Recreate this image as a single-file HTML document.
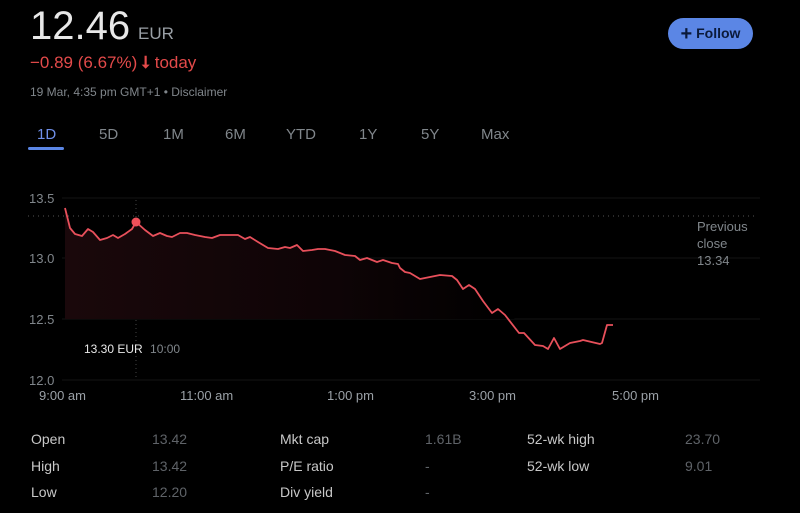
<!DOCTYPE html>
<html><head><meta charset="utf-8"><style>
body{margin:0;width:800px;height:513px;background:#000;overflow:hidden;font-family:"Liberation Sans",sans-serif;position:relative}
.a{position:absolute;white-space:nowrap}
</style></head><body>
<div class="a" style="left:30px;top:4px;font-size:40px;color:#e8e8e8">12.46</div>
<div class="a" style="left:138px;top:24px;font-size:17px;color:#9aa0a6">EUR</div>
<div class="a" style="left:30px;top:53px;font-size:17px;color:#e34a4a">−0.89 (6.67%) <span style="font-weight:bold;font-size:17px">&#11107;</span> today</div>
<div class="a" style="left:30px;top:85px;font-size:12px;color:#80868b">19 Mar, 4:35 pm GMT+1 • Disclaimer</div>
<div class="a" style="left:668px;top:18px;width:85px;height:31px;border-radius:16px;background:#5b86e5;color:#0b1a3a;font-size:14px;font-weight:bold;line-height:31px;text-align:center"><span style="font-size:20px;vertical-align:-2px">+</span> Follow</div>
<div class="a" style="left:37px;top:126px;font-size:15px;color:#6f8fe8">1D</div>
<div class="a" style="left:28px;top:147px;width:36px;height:3px;background:#5b86e5;border-radius:2px"></div>
<div class="a" style="left:99px;top:126px;font-size:15px;color:#80868b">5D</div>
<div class="a" style="left:163px;top:126px;font-size:15px;color:#80868b">1M</div>
<div class="a" style="left:225px;top:126px;font-size:15px;color:#80868b">6M</div>
<div class="a" style="left:286px;top:126px;font-size:15px;color:#80868b">YTD</div>
<div class="a" style="left:359px;top:126px;font-size:15px;color:#80868b">1Y</div>
<div class="a" style="left:421px;top:126px;font-size:15px;color:#80868b">5Y</div>
<div class="a" style="left:481px;top:126px;font-size:15px;color:#80868b">Max</div>
<svg class="a" style="left:0;top:0" width="800" height="513">
<defs><linearGradient id="g" x1="0" y1="0" x2="1" y2="0"><stop offset="0" stop-color="#1a080b"/><stop offset="0.6" stop-color="#0e0406"/><stop offset="1" stop-color="#000"/></linearGradient></defs>
<g stroke="#141414" stroke-width="1">
<line x1="62" y1="198" x2="760" y2="198"/><line x1="62" y1="258" x2="760" y2="258"/><line x1="62" y1="319" x2="760" y2="319"/><line x1="62" y1="380" x2="760" y2="380"/>
</g>
<line x1="28" y1="216" x2="755" y2="216" stroke="#555" stroke-dasharray="1,4"/>
<line x1="136" y1="200" x2="136" y2="380" stroke="#444" stroke-dasharray="1,3"/>
<polygon fill="url(#g)" points="65,208 70,228 75,234 82,236 88,229 93,232 100,240 107,238 113,235 118,238 125,234 132,229 136,222 145,230 153,236 160,233 167,236 172,237 180,233 187,233 195,235 205,237 212,238 220,235 227,235 238,235 245,239 250,237 258,242 268,248 278,249 285,247 290,248 297,245 303,251 312,250 318,249 325,249 335,251 345,255 355,256 360,260 367,258 377,262 383,260 392,263 398,264 400,268 405,272 410,273 420,279 425,278 440,275 452,276 457,280 463,289 469,285 475,289 483,301 492,313 498,309 505,315 515,319 65,319"/>
<polyline fill="none" stroke="#e8505b" stroke-width="1.8" stroke-linejoin="round" points="65,208 70,228 75,234 82,236 88,229 93,232 100,240 107,238 113,235 118,238 125,234 132,229 136,222 145,230 153,236 160,233 167,236 172,237 180,233 187,233 195,235 205,237 212,238 220,235 227,235 238,235 245,239 250,237 258,242 268,248 278,249 285,247 290,248 297,245 303,251 312,250 318,249 325,249 335,251 345,255 355,256 360,260 367,258 377,262 383,260 392,263 398,264 400,268 405,272 410,273 420,279 425,278 440,275 452,276 457,280 463,289 469,285 475,289 483,301 492,313 498,309 505,315 519,333 524,333 535,345 543,346 548,349 554,338 560,349 570,343 580,341 583,340 600,344 602,343 607,325 613,325"/>
<circle cx="136" cy="222" r="4.5" fill="#f0505a"/>
</svg>
<div class="a" style="left:29px;top:191px;font-size:13px;color:#80868b">13.5</div>
<div class="a" style="left:29px;top:251px;font-size:13px;color:#80868b">13.0</div>
<div class="a" style="left:29px;top:312px;font-size:13px;color:#80868b">12.5</div>
<div class="a" style="left:29px;top:373px;font-size:13px;color:#80868b">12.0</div>
<div class="a" style="left:39px;top:388px;font-size:13px;color:#9aa0a6">9:00 am</div>
<div class="a" style="left:180px;top:388px;font-size:13px;color:#9aa0a6">11:00 am</div>
<div class="a" style="left:327px;top:388px;font-size:13px;color:#9aa0a6">1:00 pm</div>
<div class="a" style="left:469px;top:388px;font-size:13px;color:#9aa0a6">3:00 pm</div>
<div class="a" style="left:612px;top:388px;font-size:13px;color:#9aa0a6">5:00 pm</div>
<div class="a" style="left:84px;top:342px;font-size:12px;color:#e8e8e8">13.30 EUR <span style="color:#80868b;margin-left:4px">10:00</span></div>
<div class="a" style="left:697px;top:218px;font-size:13px;color:#80868b;line-height:17px">Previous<br>close<br>13.34</div>
<div style="font-size:14px">
<div class="a" style="left:31px;top:431px;color:#c8c8c8">Open</div><div class="a" style="left:152px;top:431px;color:#5f6368">13.42</div>
<div class="a" style="left:31px;top:458px;color:#c8c8c8">High</div><div class="a" style="left:152px;top:458px;color:#5f6368">13.42</div>
<div class="a" style="left:31px;top:484px;color:#c8c8c8">Low</div><div class="a" style="left:152px;top:484px;color:#5f6368">12.20</div>
<div class="a" style="left:280px;top:431px;color:#c8c8c8">Mkt cap</div><div class="a" style="left:425px;top:431px;color:#5f6368">1.61B</div>
<div class="a" style="left:280px;top:458px;color:#c8c8c8">P/E ratio</div><div class="a" style="left:425px;top:458px;color:#5f6368">-</div>
<div class="a" style="left:280px;top:484px;color:#c8c8c8">Div yield</div><div class="a" style="left:425px;top:484px;color:#5f6368">-</div>
<div class="a" style="left:527px;top:431px;color:#c8c8c8">52-wk high</div><div class="a" style="left:685px;top:431px;color:#5f6368">23.70</div>
<div class="a" style="left:527px;top:458px;color:#c8c8c8">52-wk low</div><div class="a" style="left:685px;top:458px;color:#5f6368">9.01</div>
</div>
</body></html>
